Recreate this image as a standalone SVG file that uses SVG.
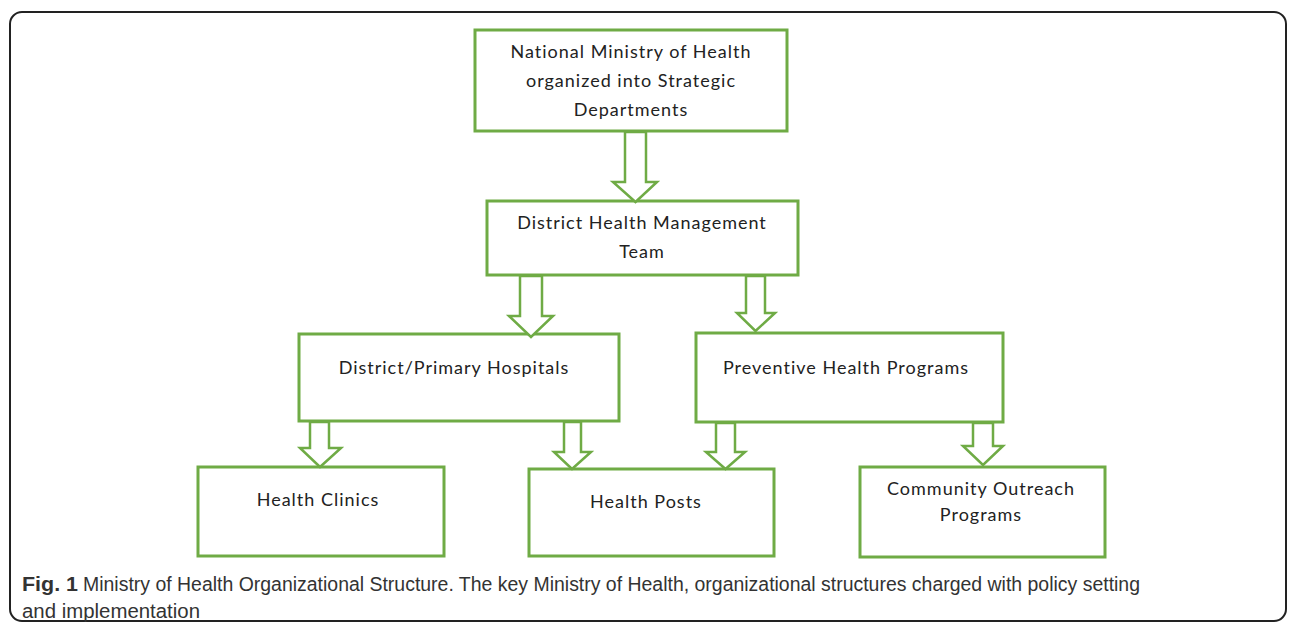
<svg xmlns="http://www.w3.org/2000/svg" width="1296" height="634" viewBox="0 0 1296 634">
<style>
.box{fill:#fff;stroke:#6fab45;stroke-width:3}
.arr{fill:#fff;stroke:#6fab45;stroke-width:2.5;stroke-linejoin:miter}
.t{font-family:Lato,"Open Sans","Liberation Sans",sans-serif;font-size:18px;letter-spacing:1px;fill:#222;text-anchor:middle}
.cap{font-family:"Liberation Sans Narrow","Liberation Sans",sans-serif;font-size:20px;fill:#333}
</style>
<rect x="0" y="0" width="1296" height="634" fill="#fff"/>
<rect x="10" y="12" width="1276" height="609" rx="12" ry="12" fill="none" stroke="#222" stroke-width="2"/>

<g id="n1"><rect class="box" x="475" y="30" width="312" height="101"/>
<text class="t" x="631" y="58">National Ministry of Health</text>
<text class="t" x="631" y="87">organized into Strategic</text>
<text class="t" x="631" y="116">Departments</text></g>

<g id="n2"><rect class="box" x="487" y="201" width="311" height="74"/>
<text class="t" x="642" y="229">District Health Management</text>
<text class="t" x="642" y="258">Team</text></g>

<g id="n3"><rect class="box" x="299" y="334" width="320" height="87"/>
<text class="t" x="454" y="374">District/Primary Hospitals</text></g>

<g id="n4"><rect class="box" x="696" y="333" width="307" height="89"/>
<text class="t" x="846" y="374">Preventive Health Programs</text></g>

<g id="n5"><rect class="box" x="198" y="467" width="246" height="89"/>
<text class="t" x="318" y="506">Health Clinics</text></g>

<g id="n6"><rect class="box" x="529" y="469" width="245" height="87"/>
<text class="t" x="646" y="508">Health Posts</text></g>

<g id="n7"><rect class="box" x="860" y="467" width="245" height="90"/>
<text class="t" x="981" y="495">Community Outreach</text>
<text class="t" x="981" y="521">Programs</text></g>

<g id="connectors">
<polygon class="arr" points="625,132 646,132 646,182 657,182 635.5,202 613,182 625,182"/>
<polygon class="arr" points="520,276 542,276 542,316 553,316 531,337 509,316 520,316"/>
<polygon class="arr" points="746,276 765,276 765,313 775,313 755.5,331 737,313 746,313"/>
<polygon class="arr" points="310,422 329,422 329,448 341,448 320,467 300,448 310,448"/>
<polygon class="arr" points="564,422 581,422 581,452 591,452 572,469 554,452 564,452"/>
<polygon class="arr" points="716,423 735,423 735,452 745,452 725.5,469 706,452 716,452"/>
<polygon class="arr" points="973,423 993,423 993,446 1003,446 983,465 963,446 973,446"/>
</g>

<g id="caption">
<text class="cap" x="22" y="591" font-weight="bold" fill="#222" textLength="56" lengthAdjust="spacingAndGlyphs">Fig. 1</text>
<text class="cap" x="83" y="591" textLength="1057" lengthAdjust="spacingAndGlyphs">Ministry of Health Organizational Structure. The key Ministry of Health, organizational structures charged with policy setting</text>
<text class="cap" x="22" y="618" textLength="178" lengthAdjust="spacingAndGlyphs">and implementation</text>
</g>
</svg>
